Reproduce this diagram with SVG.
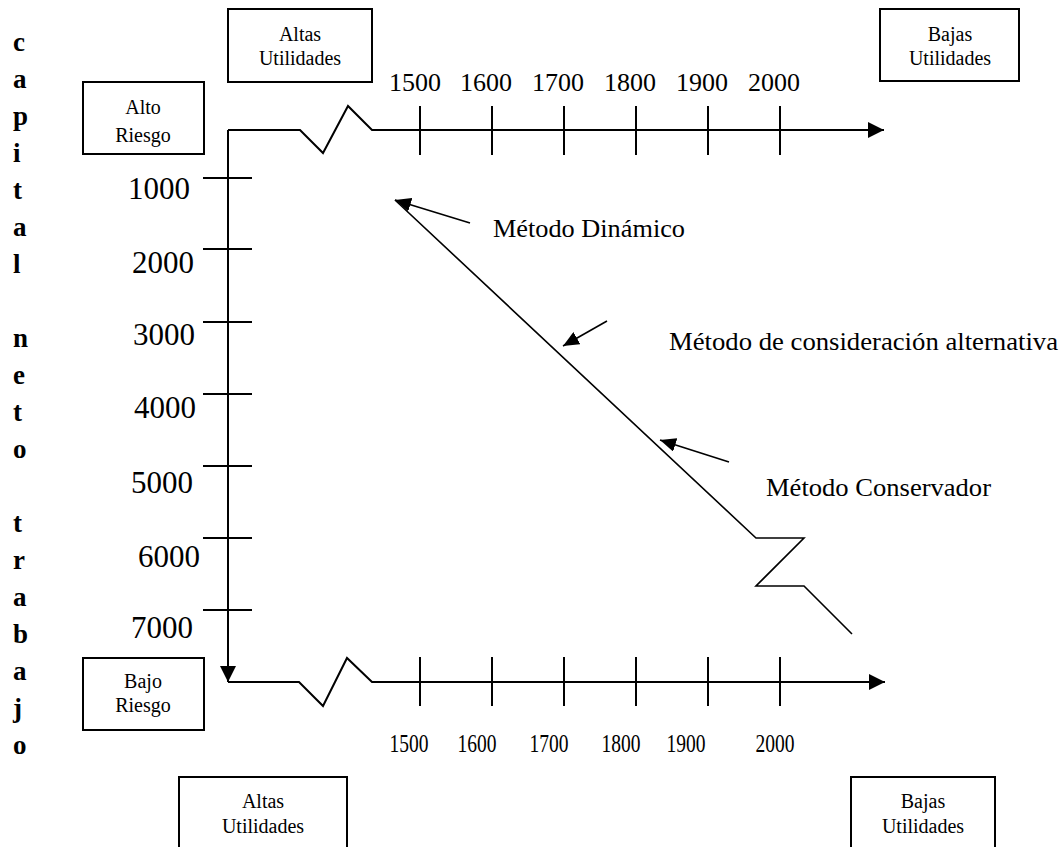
<svg xmlns="http://www.w3.org/2000/svg" width="1064" height="847" viewBox="0 0 1064 847">
<defs>
<marker id="ah" viewBox="0 0 16 16" refX="16" refY="8" markerWidth="16" markerHeight="16" markerUnits="userSpaceOnUse" orient="auto">
<path d="M0,0 L16,8 L0,16 Z" fill="#000"/>
</marker>
<marker id="ps" viewBox="0 0 16 14" refX="16" refY="7" markerWidth="16" markerHeight="14" markerUnits="userSpaceOnUse" orient="auto">
<path d="M0,0 L16,7 L0,14 Z" fill="#000"/>
</marker>
<style>
.box{fill:#fff;stroke:#000;stroke-width:2}
.bt{font-family:"Liberation Serif",serif;font-size:20px;text-anchor:middle;fill:#000}
.ax{fill:none;stroke:#000;stroke-width:2}
.tk{stroke:#000;stroke-width:2}
.num{font-family:"Liberation Serif",serif;font-size:26px;text-anchor:middle;fill:#000}
.vnum{font-family:"Liberation Serif",serif;font-size:31px;text-anchor:end;fill:#000}
.lbl{font-family:"Liberation Serif",serif;font-size:26px;fill:#000}
.vl{font-family:"Liberation Serif",serif;font-size:27px;font-weight:bold;fill:#000}
.ln{fill:none;stroke:#000;stroke-width:1.6}
</style>
</defs>
<rect width="1064" height="847" fill="#fff"/>

<g id="side-label">
<text class="vl" x="13" y="51">c</text>
<text class="vl" x="13" y="88">a</text>
<text class="vl" x="13" y="125">p</text>
<text class="vl" x="13" y="162">i</text>
<text class="vl" x="13" y="199">t</text>
<text class="vl" x="13" y="236">a</text>
<text class="vl" x="13" y="273">l</text>
<text class="vl" x="13" y="347">n</text>
<text class="vl" x="13" y="384">e</text>
<text class="vl" x="13" y="421">t</text>
<text class="vl" x="13" y="458">o</text>
<text class="vl" x="13" y="532">t</text>
<text class="vl" x="13" y="569">r</text>
<text class="vl" x="13" y="606">a</text>
<text class="vl" x="13" y="643">b</text>
<text class="vl" x="13" y="680">a</text>
<text class="vl" x="13" y="717">j</text>
<text class="vl" x="13" y="754">o</text>
</g>

<g id="box-altas-top">
<rect class="box" x="228" y="9" width="144" height="73"/>
<text class="bt" x="300" y="41">Altas</text>
<text class="bt" x="300" y="65">Utilidades</text>
</g>
<g id="box-bajas-top">
<rect class="box" x="880" y="9" width="139" height="72"/>
<text class="bt" x="950" y="41">Bajas</text>
<text class="bt" x="950" y="65">Utilidades</text>
</g>
<g id="box-alto-riesgo">
<rect class="box" x="83" y="82" width="121" height="72"/>
<text class="bt" x="143" y="114">Alto</text>
<text class="bt" x="143" y="142">Riesgo</text>
</g>
<g id="box-bajo-riesgo">
<rect class="box" x="83" y="658" width="121" height="72"/>
<text class="bt" x="143" y="688">Bajo</text>
<text class="bt" x="143" y="712">Riesgo</text>
</g>
<g id="box-altas-bottom">
<rect class="box" x="179" y="777" width="168" height="80"/>
<text class="bt" x="263" y="808">Altas</text>
<text class="bt" x="263" y="833">Utilidades</text>
</g>
<g id="box-bajas-bottom">
<rect class="box" x="851" y="777" width="144" height="80"/>
<text class="bt" x="923" y="808">Bajas</text>
<text class="bt" x="923" y="833">Utilidades</text>
</g>

<g id="connectors">
<polyline class="ax" points="228,130 300,130 323,153 348,106 372,130 884,130" marker-end="url(#ah)"/>
<line class="ax" x1="228" y1="130" x2="228" y2="682" marker-end="url(#ah)"/>
<polyline class="ax" points="228,682 299,682 323,706 347,658 372,682 885,682" marker-end="url(#ah)"/>
<line class="tk" x1="420" y1="106" x2="420" y2="155"/>
<line class="tk" x1="492" y1="106" x2="492" y2="155"/>
<line class="tk" x1="564" y1="106" x2="564" y2="155"/>
<line class="tk" x1="636" y1="106" x2="636" y2="155"/>
<line class="tk" x1="708" y1="106" x2="708" y2="155"/>
<line class="tk" x1="780" y1="106" x2="780" y2="155"/>
<line class="tk" x1="420" y1="657" x2="420" y2="706"/>
<line class="tk" x1="492" y1="657" x2="492" y2="706"/>
<line class="tk" x1="564" y1="657" x2="564" y2="706"/>
<line class="tk" x1="636" y1="657" x2="636" y2="706"/>
<line class="tk" x1="708" y1="657" x2="708" y2="706"/>
<line class="tk" x1="780" y1="657" x2="780" y2="706"/>
<line class="tk" x1="203" y1="178" x2="252" y2="178"/>
<line class="tk" x1="203" y1="249" x2="252" y2="249"/>
<line class="tk" x1="203" y1="322" x2="252" y2="322"/>
<line class="tk" x1="203" y1="394" x2="252" y2="394"/>
<line class="tk" x1="203" y1="466" x2="252" y2="466"/>
<line class="tk" x1="203" y1="538" x2="252" y2="538"/>
<line class="tk" x1="203" y1="610" x2="252" y2="610"/>
<polyline class="ln" points="395,200 756,538 804,538 756,586 804,586 852,634"/>
<line class="ln" x1="470" y1="223" x2="395" y2="200" marker-end="url(#ps)"/>
<line class="ln" x1="607" y1="321" x2="563" y2="346" marker-end="url(#ps)"/>
<line class="ln" x1="729" y1="462" x2="660" y2="440" marker-end="url(#ps)"/>
</g>

<g id="axis-labels">
<text class="num" x="415" y="91">1500</text>
<text class="num" x="486" y="91">1600</text>
<text class="num" x="558" y="91">1700</text>
<text class="num" x="630" y="91">1800</text>
<text class="num" x="702" y="91">1900</text>
<text class="num" x="774" y="91">2000</text>
<text class="num" x="409" y="752" textLength="39" lengthAdjust="spacingAndGlyphs">1500</text>
<text class="num" x="477" y="752" textLength="39" lengthAdjust="spacingAndGlyphs">1600</text>
<text class="num" x="549" y="752" textLength="39" lengthAdjust="spacingAndGlyphs">1700</text>
<text class="num" x="621" y="752" textLength="39" lengthAdjust="spacingAndGlyphs">1800</text>
<text class="num" x="686" y="752" textLength="39" lengthAdjust="spacingAndGlyphs">1900</text>
<text class="num" x="775" y="752" textLength="39" lengthAdjust="spacingAndGlyphs">2000</text>
<text class="vnum" x="190" y="199">1000</text>
<text class="vnum" x="194" y="273">2000</text>
<text class="vnum" x="195" y="345">3000</text>
<text class="vnum" x="196" y="418">4000</text>
<text class="vnum" x="193" y="493">5000</text>
<text class="vnum" x="200" y="567">6000</text>
<text class="vnum" x="193" y="638">7000</text>
</g>

<g id="method-labels">
<text class="lbl" x="493" y="237" textLength="192" lengthAdjust="spacingAndGlyphs">Método Dinámico</text>
<text class="lbl" x="669" y="350" textLength="389" lengthAdjust="spacingAndGlyphs">Método de consideración alternativa</text>
<text class="lbl" x="766" y="496" textLength="225" lengthAdjust="spacingAndGlyphs">Método Conservador</text>
</g>
</svg>
